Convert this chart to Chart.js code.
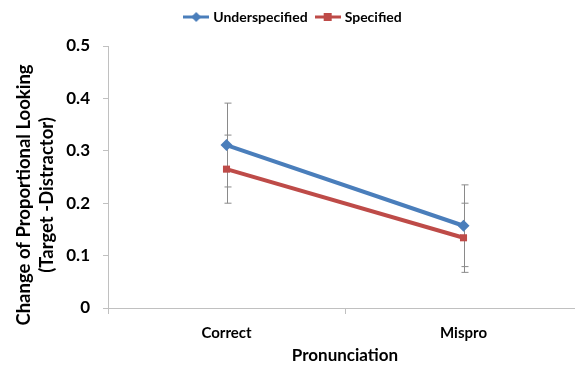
<!DOCTYPE html>
<html>
<head>
<meta charset="utf-8">
<script src="https://cdn.jsdelivr.net/npm/chart.js@4/dist/chart.umd.min.js"></script>
<style>
  html, body { margin: 0; padding: 0; background: #fff; overflow: hidden; }
  #wrap { width: 588px; height: 366px; }
</style>
</head>
<body>
<div id="wrap"><canvas id="looking"></canvas></div>
<script>
const pronunciation = ['Correct', 'Mispro'];
const underspecified = [0.311, 0.157];
const specified = [0.265, 0.134];
const underspecifiedErr = [0.080, 0.078];
const specifiedErr = [0.065, 0.066];
const yTicks = [0, 0.1, 0.2, 0.3, 0.4, 0.5];

const BLUE = '#4a7ebb';
const RED = '#be4b48';
const FONT = 'Lato, "DejaVu Sans", sans-serif';
const PAD = '\u00a0'.repeat(8);

// little line+marker icons for the legend
function legendIcon(color, shape) {
    const c = document.createElement('canvas');
    c.width = 26; c.height = 10;
    const ctx = c.getContext('2d');
    ctx.strokeStyle = color;
    ctx.lineWidth = 3;
    ctx.beginPath(); ctx.moveTo(0, 5); ctx.lineTo(26, 5); ctx.stroke();
    ctx.fillStyle = color;
    if (shape === 'diamond') {
        ctx.beginPath();
        ctx.moveTo(13, 0); ctx.lineTo(18, 5); ctx.lineTo(13, 10); ctx.lineTo(8, 5);
        ctx.closePath(); ctx.fill();
    } else {
        ctx.fillRect(9, 1, 8, 8);
    }
    return c;
}

// keep a fixed band for the legend above the plot
const legendSpace = {
    id: 'legendSpace',
    beforeInit(chart) {
        const legend = chart.legend;
        const fit = legend.fit;
        legend.fit = function () {
            fit.call(this);
            this.height = 46;
        };
    }
};

// gray error bars with end caps, drawn under the lines
const errorBars = {
    id: 'errorBars',
    beforeDatasetsDraw(chart) {
        const ctx = chart.ctx;
        const x = chart.scales.x;
        const y = chart.scales.y;
        const sets = [[underspecified, underspecifiedErr], [specified, specifiedErr]];
        ctx.save();
        ctx.strokeStyle = '#8a8a8a';
        ctx.lineWidth = 1;
        sets.forEach(([vals, errs]) => {
            vals.forEach((v, i) => {
                const px = Math.round(x.getPixelForValue(i)) + 0.5;
                const top = y.getPixelForValue(v + errs[i]);
                const bot = y.getPixelForValue(v - errs[i]);
                ctx.beginPath();
                ctx.moveTo(px, top); ctx.lineTo(px, bot);
                ctx.moveTo(px - 3, top); ctx.lineTo(px + 4, top);
                ctx.moveTo(px - 3, bot); ctx.lineTo(px + 4, bot);
                ctx.stroke();
            });
        });
        ctx.restore();
    }
};

new Chart(document.getElementById('looking'), {
    type: 'line',
    data: {
        labels: pronunciation,
        datasets: [{
            label: 'Underspecified',
            data: underspecified,
            borderColor: BLUE,
            backgroundColor: BLUE,
            borderWidth: 4,
            pointStyle: 'rectRot',
            pointRadius: 6,
            pointHoverRadius: 6,
            pointBorderWidth: 0
        }, {
            label: 'Specified',
            data: specified,
            borderColor: RED,
            backgroundColor: RED,
            borderWidth: 4,
            pointStyle: 'rect',
            pointRadius: 5,
            pointHoverRadius: 5,
            pointBorderWidth: 0
        }]
    },
    options: {
        responsive: true,
        maintainAspectRatio: false,
        animation: false,
        layout: { padding: 0 },
        plugins: {
            tooltip: { enabled: false },
            legend: {
                position: 'top',
                labels: {
                    usePointStyle: true,
                    pointStyleWidth: 20,
                    boxHeight: 10,
                    padding: 10,
                    color: '#000',
                    font: { family: FONT, size: 14, weight: 'bold' },
                    generateLabels(chart) {
                        return [
                            { text: 'Underspecified', pointStyle: legendIcon(BLUE, 'diamond'), fillStyle: BLUE, strokeStyle: BLUE, lineWidth: 0, datasetIndex: 0 },
                            { text: 'Specified', pointStyle: legendIcon(RED, 'square'), fillStyle: RED, strokeStyle: RED, lineWidth: 0, datasetIndex: 1 }
                        ];
                    }
                }
            }
        },
        scales: {
            x: {
                type: 'category',
                offset: true,
                grid: {
                    display: true,
                    drawOnChartArea: false,
                    offset: true,
                    color: '#c0c0c0',
                    tickLength: 6
                },
                border: { color: '#c0c0c0' },
                ticks: {
                    color: '#000',
                    padding: 10,
                    font: { family: FONT, size: 15, weight: 'bold' }
                },
                title: {
                    display: true,
                    text: 'Pronunciation',
                    color: '#000',
                    padding: { top: 0, bottom: 0 },
                    font: { family: FONT, size: 17, weight: 'bold' }
                },
                afterFit(scale) { scale.height = 58; }
            },
            y: {
                min: 0,
                max: 0.5,
                afterBuildTicks(scale) { scale.ticks = yTicks.map(v => ({ value: v })); },
                grid: {
                    drawOnChartArea: false,
                    color: '#c0c0c0',
                    tickLength: 5
                },
                border: { color: '#c0c0c0' },
                ticks: {
                    color: '#000',
                    padding: 13,
                    font: { family: FONT, size: 17, weight: 'bold' },
                    callback: v => v === 0 ? '0' : v.toFixed(1)
                },
                title: {
                    display: true,
                    text: ['Change of Proportional Looking' + PAD, '(Target -Distractor)' + PAD],
                    color: '#000',
                    padding: { top: 12, bottom: 0 },
                    font: { family: FONT, size: 18.5, weight: 'bold', lineHeight: 1.25 }
                },
                afterFit(scale) { scale.width = 108; }
            }
        }
    },
    plugins: [legendSpace, errorBars]
});
</script>
</body>
</html>
